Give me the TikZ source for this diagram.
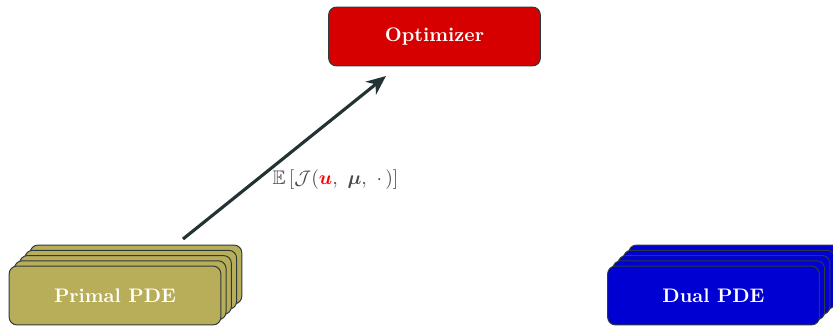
\documentclass[tikz,border=0pt]{standalone}
\usepackage{amsmath,amssymb,bm}
\usetikzlibrary{arrows.meta}
\definecolor{olivebox}{HTML}{B8AD58}
\definecolor{bluebox}{HTML}{0000D2}
\definecolor{redbox}{HTML}{D60000}
\definecolor{edgec}{HTML}{2F3B3B}
\definecolor{arrowc}{HTML}{233333}
\definecolor{labelc}{HTML}{4A4A4A}
\tikzset{
  pbox/.style={draw=edgec, line width=0.5pt, rounded corners=4pt, minimum width=108pt, minimum height=30pt, inner sep=0pt, text=white, font=\bfseries},
  flowarrow/.style={draw=arrowc, line width=1.6pt, -{Stealth[length=10pt,width=8.5pt]}},
}
\begin{document}
\begin{tikzpicture}[x=0.51pt,y=-0.51pt]
\useasboundingbox (0,0) rectangle (833,326);
\begin{scope}
\clip (0,0) rectangle (833,326);
% primal stack
\node[pbox, fill=olivebox] (p4) at (136,274.5) {};
\node[pbox, fill=olivebox] (p3) at (130.75,279.75) {};
\node[pbox, fill=olivebox] (p2) at (125.5,285) {};
\node[pbox, fill=olivebox] (p1) at (120.25,290.25) {};
\node[pbox, fill=olivebox] (primal) at (115,295.5) {Primal PDE};
% dual stack
\node[pbox, fill=bluebox] (d4) at (734.5,274.5) {};
\node[pbox, fill=bluebox] (d3) at (729.25,279.75) {};
\node[pbox, fill=bluebox] (d2) at (724,285) {};
\node[pbox, fill=bluebox] (d1) at (718.75,290.25) {};
\node[pbox, fill=bluebox] (dual) at (713.5,295.5) {Dual PDE};
\end{scope}
% optimizer
\node[pbox, fill=redbox] (opt) at (434.5,36.5) {Optimizer};
% arrow
\coordinate (s) at (183,239);
\coordinate (e) at (386,76);
\draw[flowarrow] (s) -- (e);
\node[text=labelc, inner sep=0pt] (lab) at (335.5,180) {$\mathbb{E}\left[\mathcal{J}(\textcolor{red}{\bm{u}},\ \bm{\mu},\ \cdot\,)\right]$};
\end{tikzpicture}
\end{document}
